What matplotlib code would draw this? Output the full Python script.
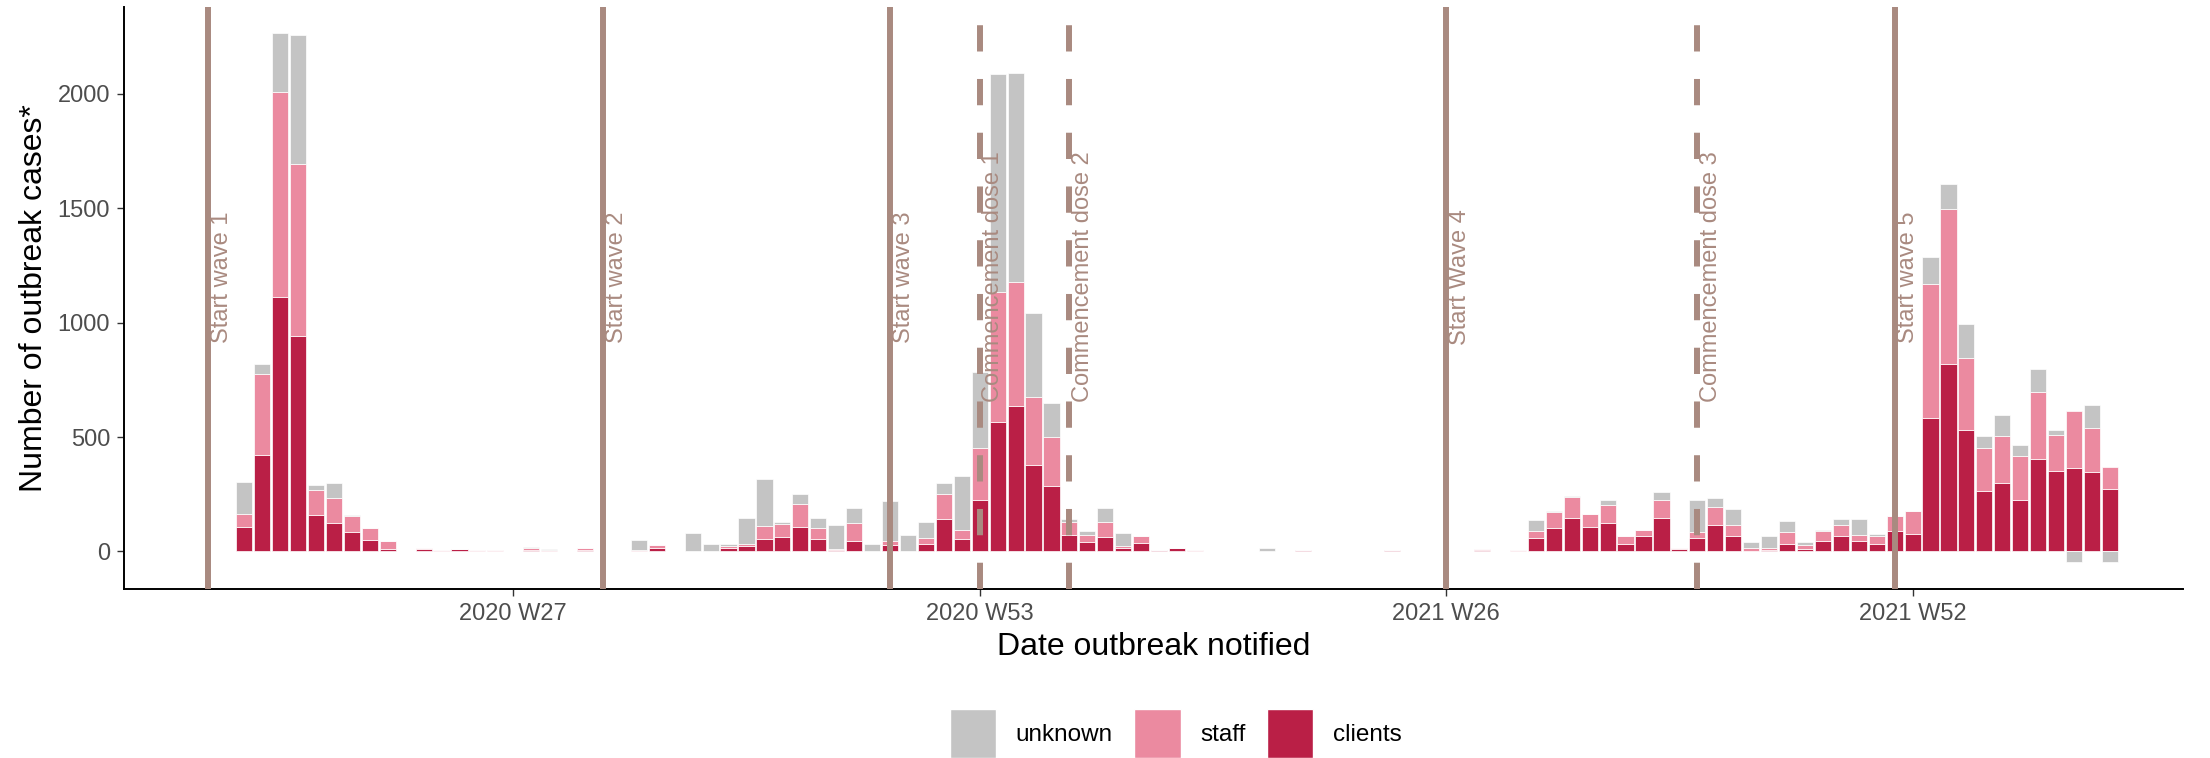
import numpy as np
import matplotlib
matplotlib.use("Agg")
import matplotlib.pyplot as plt
from matplotlib.patches import Patch

plt.rcParams['font.family'] = ['Liberation Sans', 'DejaVu Sans']

# week index counted from 2020 W1 (2020 has 53 weeks, so 2021 W1 = 54)
weeks = np.arange(12, 117)

clients = [107, 422, 1111, 943, 158, 126, 86, 51, 12, 0,
           12, 0, 9, 4, 0, 0, 7, 0, 0, 6,
           0, 0, 0, 15, 0, 0, 0, 15, 22, 55,
           63, 107, 53, 6, 45, 0, 28, 0, 32, 140,
           55, 225, 565, 638, 380, 288, 74, 42, 61, 15,
           35, 7, 15, 0, 0, 0, 0, 0, 0, 7,
           0, 0, 0, 0, 5, 0, 0, 0, 0, 6,
           0, 4, 58, 104, 145, 107, 126, 32, 66, 147,
           10, 57, 115, 67, 4, 8, 33, 11, 47, 68,
           47, 33, 89, 77, 585, 819, 533, 263, 299, 225,
           403, 350, 365, 346, 272]
staff = [58, 352, 899, 752, 111, 108, 67, 51, 34, 0,
         4, 6, 3, 4, 5, 0, 7, 5, 3, 9,
         0, 0, 7, 15, 3, 0, 0, 10, 10, 55,
         55, 101, 50, 3, 80, 0, 19, 0, 26, 112,
         38, 228, 569, 540, 297, 212, 53, 28, 66, 7,
         32, 0, 0, 5, 0, 0, 0, 0, 0, 0,
         0, 0, 0, 0, 3, 0, 4, 0, 0, 6,
         0, 4, 31, 70, 91, 55, 79, 34, 28, 77,
         7, 26, 79, 50, 10, 6, 52, 19, 44, 47,
         26, 34, 67, 102, 583, 679, 311, 190, 206, 194,
         295, 161, 247, 194, 96]
unknown = [139, 45, 255, 564, 23, 67, 7, 0, 0, 0,
           0, 0, 0, 0, 0, 0, 7, 7, 0, 0,
           0, 0, 42, 0, 0, 80, 32, 7, 115, 207,
           12, 42, 45, 105, 66, 32, 172, 73, 72, 48,
           238, 331, 955, 914, 365, 150, 13, 18, 64, 58,
           0, 0, 0, 0, 0, 0, 0, 15, 0, 0,
           0, 0, 0, 0, 0, 0, 0, 0, 0, 0,
           0, 0, 47, 4, 6, 0, 18, 0, 0, 36,
           0, 140, 41, 69, 26, 53, 50, 10, 2, 26,
           69, 9, 0, 0, 120, 107, 152, 50, 92, 45,
           101, 18, -46, 101, -46]

tick_pos = [27, 53, 79, 105]
tick_labels = ['2020 W27', '2020 W53', '2021 W26', '2021 W52']

wave_pos = [10, 32, 48, 79, 104]
wave_labels = ['Start wave 1', 'Start wave 2', 'Start wave 3', 'Start Wave 4', 'Start wave 5']
dose_pos = [53, 58, 93]
dose_labels = ['Commencement dose 1', 'Commencement dose 2', 'Commencement dose 3']

col_unknown = '#C4C4C4'
col_staff = '#EB8AA0'
col_clients = '#BA1F46'
col_line = '#A98A80'

clients = np.array(clients)
staff = np.array(staff)
unknown = np.array(unknown)

fig = plt.figure(figsize=(22.1, 7.58), dpi=100)
ax = fig.add_axes([0.0561, 0.223, 0.988 - 0.0561, 0.991 - 0.223])

w = 0.9
ax.bar(weeks, clients, width=w, color=col_clients, edgecolor='white', linewidth=0.5)
ax.bar(weeks, staff, width=w, bottom=clients, color=col_staff, edgecolor='white', linewidth=0.5)
unk_bottom = np.where(unknown >= 0, clients + staff, 0)
ax.bar(weeks, unknown, width=w, bottom=unk_bottom, color=col_unknown, edgecolor='white', linewidth=0.5)

for x, lab in zip(wave_pos, wave_labels):
    ax.axvline(x, color=col_line, lw=4.3, zorder=3)
    ax.annotate(lab, xy=(x, 1200), xytext=(2, 0), textcoords='offset points',
                rotation=90, ha='left', va='center', color=col_line, fontsize=17, zorder=4)
for x, lab in zip(dose_pos, dose_labels):
    ax.axvline(x, color=col_line, lw=4.3, linestyle=(0, (4.4, 4.6)), zorder=3)
    ax.annotate(lab, xy=(x, 1200), xytext=(2, 0), textcoords='offset points',
                rotation=90, ha='left', va='center', color=col_line, fontsize=17, zorder=4)

ax.set_xlim(5.3, 120.1)
ax.set_ylim(-164, 2381)
ax.set_xticks(tick_pos)
ax.set_xticklabels(tick_labels)
ax.set_yticks([0, 500, 1000, 1500, 2000])
ax.tick_params(axis='both', labelsize=17, labelcolor='#4D4D4D', color='#333333',
               length=5, width=1, pad=5)

for s in ['top', 'right']:
    ax.spines[s].set_visible(False)
for s in ['left', 'bottom']:
    ax.spines[s].set_linewidth(1.4)
    ax.spines[s].set_color('black')

ax.set_xlabel('Date outbreak notified', fontsize=23, labelpad=5)
ax.set_ylabel('Number of outbreak cases*', fontsize=23, labelpad=6)

handles = [Patch(facecolor=col_unknown, edgecolor='white'),
           Patch(facecolor=col_staff, edgecolor='white'),
           Patch(facecolor=col_clients, edgecolor='white')]
fig.legend(handles, ['unknown', 'staff', 'clients'], loc='center', bbox_to_anchor=(0.532, 0.032),
           ncol=3, frameon=False, fontsize=17.5, handlelength=1.9, handleheight=2.7,
           handletextpad=0.8, columnspacing=0.9)

fig.savefig('out.png', dpi=100)
